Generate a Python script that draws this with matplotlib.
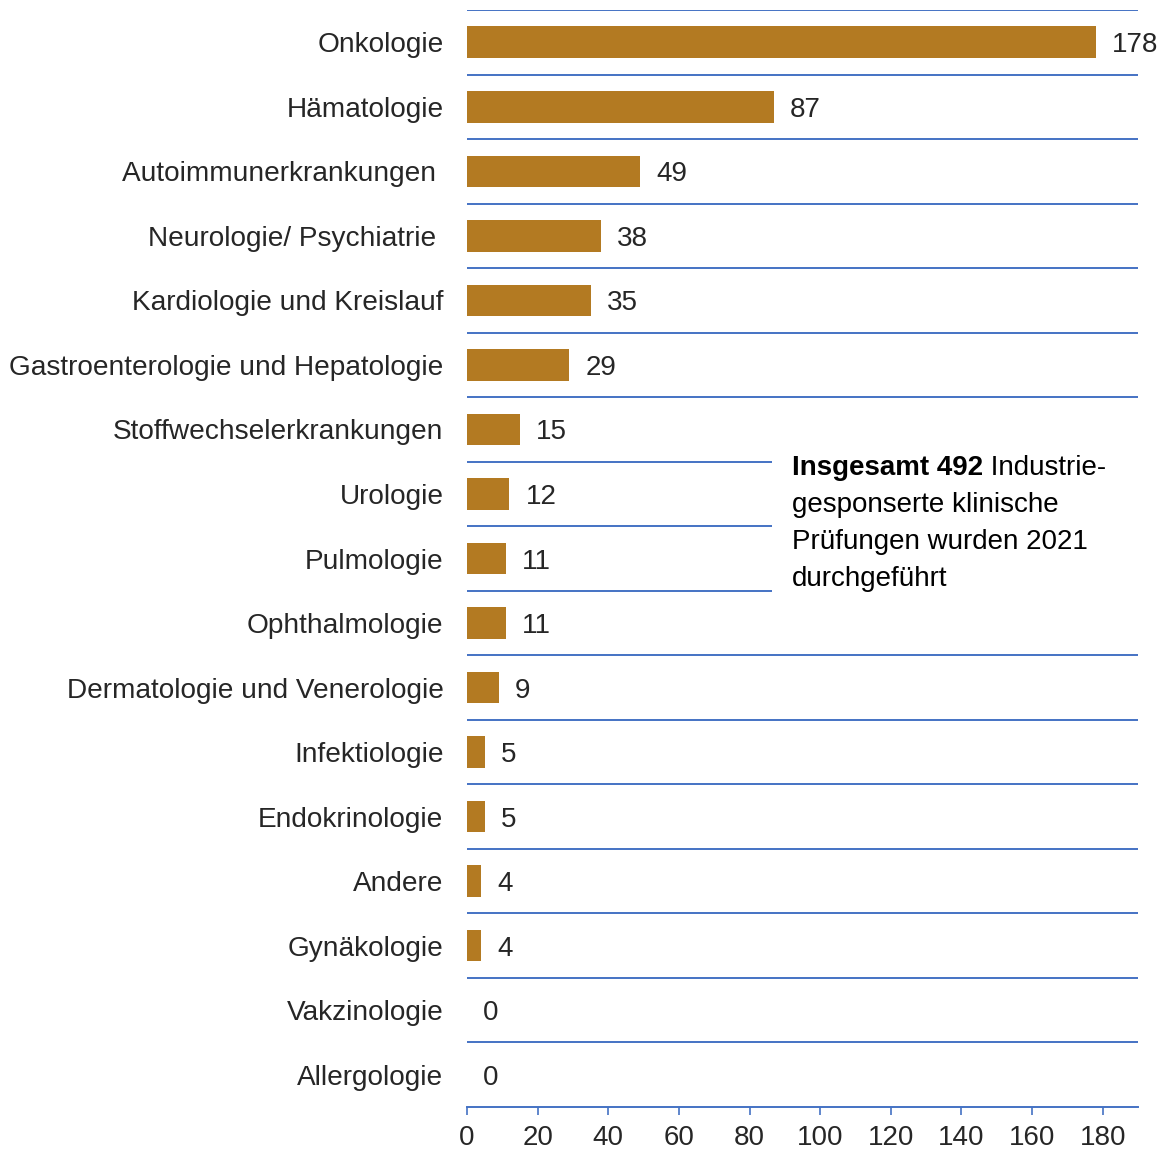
import matplotlib
matplotlib.use("Agg")
from matplotlib import pyplot as plt

categories = ["Onkologie", "Hämatologie", "Autoimmunerkrankungen ", "Neurologie/ Psychiatrie ",
              "Kardiologie und Kreislauf", "Gastroenterologie und Hepatologie",
              "Stoffwechselerkrankungen", "Urologie", "Pulmologie", "Ophthalmologie",
              "Dermatologie und Venerologie", "Infektiologie", "Endokrinologie", "Andere",
              "Gynäkologie", "Vakzinologie", "Allergologie"]
values = [178, 87, 49, 38, 35, 29, 15, 12, 11, 11, 9, 5, 5, 4, 4, 0, 0]
xticks = [0, 20, 40, 60, 80, 100, 120, 140, 160, 180]

bar_color = "#B37A22"
line_color = "#4472C4"
text_color = "#262626"

plt.rcParams["font.family"] = ["Liberation Sans", "DejaVu Sans"]

fig = plt.figure(figsize=(11.67, 11.53), dpi=100)
ax = fig.add_axes([0.4002, 0.0399, 0.5749, 0.9514])

ypos = list(range(len(categories)))
bars = ax.barh(ypos, values, height=0.49, color=bar_color, zorder=3)
vlabels = ax.bar_label(bars, labels=[str(v) for v in values], padding=11.5,
                       fontsize=20, color=text_color)
for t in vlabels:
    t.set_va("center_baseline")

ax.set_ylim(len(categories) - 0.5, -0.5)
ax.set_xlim(0, 190)

# separator lines between categories (three shortened next to the note)
for k in range(len(categories)):
    edge = k - 0.5
    if k in (7, 8, 9):
        ax.hlines(edge, 0, 86.4, color=line_color, lw=1.4, zorder=2)
    else:
        ax.hlines(edge, 0, 190, color=line_color, lw=1.4, zorder=2)

ax.set_yticks(ypos)
ax.set_yticklabels(categories, fontsize=20.2, color=text_color)
ax.tick_params(axis="y", length=0, pad=17)

ax.set_xticks(xticks)
ax.set_xticklabels([str(t) for t in xticks], fontsize=20, color=text_color,
                   family=["Liberation Sans Narrow", "Liberation Sans"])
ax.tick_params(axis="x", direction="out", length=6, width=1.2, color=line_color, pad=7)

for s in ["top", "right", "left"]:
    ax.spines[s].set_visible(False)
ax.spines["bottom"].set_color(line_color)
ax.spines["bottom"].set_linewidth(1.4)

# note
nx = 92.1
t1 = ax.text(nx, 6.71, "Insgesamt 492", fontsize=20, fontweight="bold",
             color="black", va="baseline", ha="left")
ax.annotate(" Industrie-", xy=(1, 0), xycoords=t1, fontsize=20, color="black",
            va="bottom", ha="left")
ax.text(nx, 6.71 + 37 / 64.5, "gesponserte klinische", fontsize=20, color="black",
        va="baseline", ha="left")
ax.text(nx, 6.71 + 74 / 64.5, "Prüfungen wurden 2021", fontsize=20, color="black",
        va="baseline", ha="left")
ax.text(nx, 6.71 + 111 / 64.5, "durchgeführt", fontsize=20, color="black",
        va="baseline", ha="left")

plt.savefig("out.png", dpi=100)
